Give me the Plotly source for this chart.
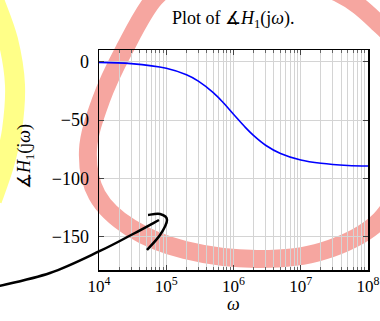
import plotly.graph_objects as go

# ---- data ----
omega = [1e4, 3e4, 1e5, 2e5, 3e5, 5e5, 7e5, 1e6, 1.5e6, 2e6, 3e6, 5e6, 1e7, 2e7, 5e7, 1e8]
phase = [-0.6, -1.7, -5.7, -11.3, -16.7, -26.6, -35.0, -45.0, -56.3, -63.4, -71.6, -78.7, -84.3, -87.1, -88.9, -89.4]

x_tickvals = [1e4, 1e5, 1e6, 1e7, 1e8]
x_ticktext = ["10<sup>4</sup>", "10<sup>5</sup>", "10<sup>6</sup>", "10<sup>7</sup>", "10<sup>8</sup>"]
x_minor = [m * 10 ** e for e in range(4, 8) for m in range(2, 10)]
y_tickvals = [0, -50, -100, -150]

# ---- layout geometry (pixels) ----
W, H = 380, 321
L, R, T, B = 99, 12, 50, 51
PW, PH = W - L - R, H - T - B


def pp(x, y):
    return ((x - L) / PW, (H - B - y) / PH)


def smooth_path(pts, closed=False):
    P = [pp(*p) for p in pts]
    n = len(P)
    segs = n if closed else n - 1
    d = "M %.4f,%.4f" % P[0]
    for i in range(segs):
        p0 = P[(i - 1) % n] if (closed or i > 0) else P[0]
        p1 = P[i % n]
        p2 = P[(i + 1) % n]
        p3 = P[(i + 2) % n] if (closed or i + 2 < n) else P[-1]
        c1 = (p1[0] + (p2[0] - p0[0]) / 6, p1[1] + (p2[1] - p0[1]) / 6)
        c2 = (p2[0] - (p3[0] - p1[0]) / 6, p2[1] - (p3[1] - p1[1]) / 6)
        d += " C %.4f,%.4f %.4f,%.4f %.4f,%.4f" % (c1[0], c1[1], c2[0], c2[1], p2[0], p2[1])
    if closed:
        d += " Z"
    return d


red_pts = [(155, -2), (124, 50), (101, 100), (88, 150), (97, 195), (131, 228), (185, 250),
           (257, 259), (323, 251), (380, 220), (404, 170), (412, 100), (400, 50), (378, 23),
           (338, -7), (260, -35), (190, -22)]
yellow_pts = [(-6, 0), (8, 40), (15, 85), (12, 130), (4, 165), (-8, 200)]
arrow_pts = [(-5, 287), (50, 273), (100, 251), (133, 234), (159, 220)]
hook_pts = [(148, 215), (160, 214), (167, 220), (160, 235), (147, 250)]

fig = go.Figure()
fig.add_trace(go.Scatter(x=omega, y=phase, mode="lines", line=dict(color="#0000ff", width=1.6, shape="spline"),
                         hoverinfo="skip", showlegend=False))

grid = "#d4d4d4"
serif = "Liberation Serif, DejaVu Serif, serif"

fig.update_layout(
    width=W, height=H,
    margin=dict(l=L, r=R, t=T, b=B, pad=0, autoexpand=False),
    paper_bgcolor="white", plot_bgcolor="rgba(0,0,0,0)",
    font=dict(family=serif, size=17, color="black"),
    showlegend=False,
    xaxis=dict(type="log", range=[4, 8], showline=True, linecolor="black", linewidth=1.5, mirror="allticks",
               ticks="inside", ticklen=5, tickcolor="#444", tickwidth=1, automargin=False,
               tickvals=x_tickvals, ticktext=x_ticktext, showgrid=True, gridcolor=grid, gridwidth=1,
               zeroline=False, tickfont=dict(size=17),
               minor=dict(tickvals=x_minor, ticks="inside", ticklen=3, tickcolor="#666", showgrid=True,
                          gridcolor=grid, gridwidth=1)),
    yaxis=dict(range=[-178.5, 10], showline=True, linecolor="black", linewidth=1.5, mirror="allticks",
               ticks="inside", ticklen=5, tickcolor="#444", tickwidth=1, automargin=False,
               tickvals=y_tickvals, showgrid=True, gridcolor=grid, gridwidth=1, zeroline=False,
               tickfont=dict(size=18), ticklabelstandoff=5),
    shapes=[
        dict(type="path", xref="paper", yref="paper", path=smooth_path(yellow_pts),
             line=dict(color="#ffff88", width=20), layer="below"),
        dict(type="path", xref="paper", yref="paper", path=smooth_path(red_pts, closed=True),
             line=dict(color="#f6a6a0", width=18), layer="below"),
        dict(type="path", xref="paper", yref="paper", path=smooth_path(arrow_pts),
             line=dict(color="black", width=2.5), layer="above"),
        dict(type="path", xref="paper", yref="paper", path=smooth_path(hook_pts),
             line=dict(color="black", width=2.5), layer="above"),
    ],
    annotations=[
        dict(text="Plot of ∡<i>H</i><sub>1</sub>(j<i>ω</i>).", xref="paper", yref="paper",
             x=pp(233, 0)[0], y=pp(0, 19)[1], xanchor="center", yanchor="middle", showarrow=False,
             font=dict(size=18)),
        dict(text="∡<i>H</i><sub>1</sub>(j<i>ω</i>)", xref="paper", yref="paper", textangle=-90,
             x=pp(25, 0)[0], y=pp(0, 157)[1], xanchor="center", yanchor="middle", showarrow=False,
             font=dict(size=18)),
        dict(text="<i>ω</i>", xref="paper", yref="paper",
             x=pp(233, 0)[0], y=pp(0, 304)[1], xanchor="center", yanchor="middle", showarrow=False,
             font=dict(size=18)),
    ],
)

fig.write_html("out.html", config={"displayModeBar": False, "staticPlot": True},
               post_script="document.body.style.margin='0';document.body.style.overflow='hidden';")
